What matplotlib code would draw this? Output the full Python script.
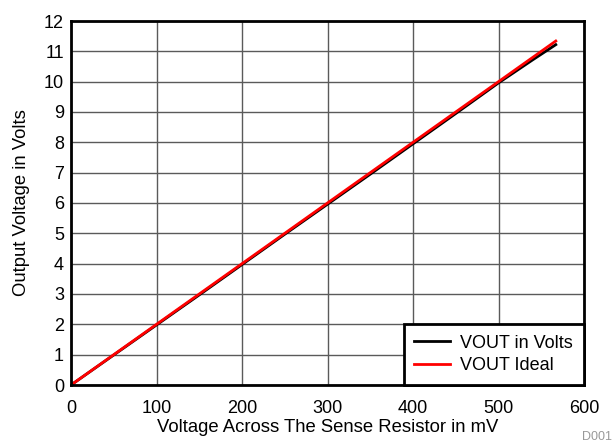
import numpy as np
import matplotlib.pyplot as plt

plt.rcParams['font.family'] = ['Liberation Sans', 'DejaVu Sans']

v_sense = [0, 50, 100, 150, 200, 250, 300, 350, 400, 450, 500, 540, 567]
vout = [0.0, 0.99, 1.98, 2.97, 3.97, 4.97, 5.96, 6.95, 7.95, 8.95, 9.96, 10.72, 11.22]

# ideal gain line
ideal_x = [0, 567]
ideal_y = [0.0, 11.34]

fig = plt.figure(figsize=(6.13, 4.43), dpi=100)
ax = fig.add_axes([71 / 613, 1 - 385 / 443, 513 / 613, 364 / 443])

ax.plot(v_sense, vout, color='black', lw=2, label='VOUT in Volts')
ax.plot(ideal_x, ideal_y, color='#ff0000', lw=2, label='VOUT Ideal')

ax.set_xlim(0, 600)
ax.set_ylim(0, 12)
ax.set_xticks(np.arange(0, 601, 100))
ax.set_yticks(np.arange(0, 13, 1))
ax.grid(True, color='#5a5a5a', lw=1)
ax.set_axisbelow(True)
ax.tick_params(length=0, labelsize=13)
ax.tick_params(axis='x', pad=10.5)
ax.tick_params(axis='y', pad=5)
for s in ax.spines.values():
    s.set_linewidth(2)

ax.set_xlabel('Voltage Across The Sense Resistor in mV', fontsize=13.3, labelpad=2)
ax.set_ylabel('Output Voltage in Volts', fontsize=13.3, labelpad=10)

leg = ax.legend(loc='lower right', fontsize=13, fancybox=False, framealpha=1,
                edgecolor='black', borderaxespad=0, handlelength=2.0,
                borderpad=0.6, labelspacing=0.3, handletextpad=0.55)
leg.get_frame().set_linewidth(2)

fig.text(0.998, 0.0, 'D001', fontsize=9, color='#999999', ha='right', va='bottom')

fig.savefig('out.png', dpi=100)
